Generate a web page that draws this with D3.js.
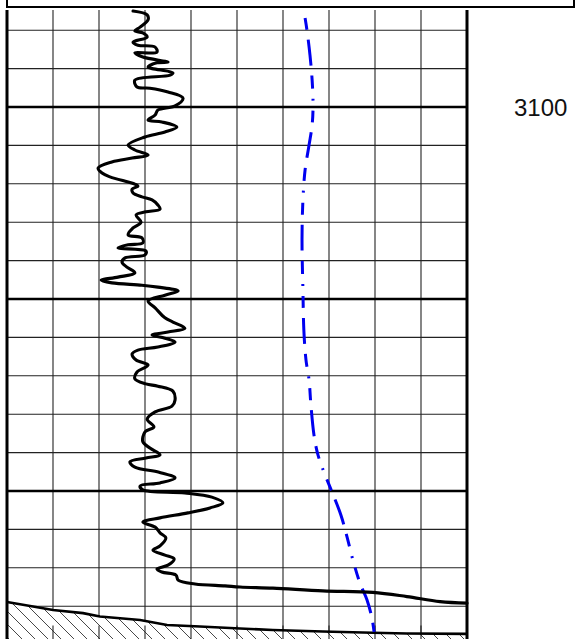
<!DOCTYPE html>
<html>
<head>
<meta charset="utf-8">
<script src="https://cdn.jsdelivr.net/npm/d3@7"></script>
<style>
  html, body { margin: 0; padding: 0; background: #fff; }
  svg { display: block; }
</style>
</head>
<body>
<svg id="chart" width="575" height="639"></svg>
<script>
// ---- Data ----
// Black (GR-like) curve: depth (m) and value (API, 0-150 track scale)
const grDepth = [3097.50,3097.60,3097.73,3097.92,3098.02,3098.07,3098.18,3098.31,3098.39,3098.44,
  3098.57,3098.59,3098.70,3098.83,3098.85,3098.96,3099.11,3099.17,3099.30,3099.48,
  3099.51,3099.61,3099.77,3099.97,3100.08,3100.21,3100.34,3100.39,3100.52,3100.65,
  3100.78,3100.99,3101.12,3101.25,3101.33,3101.43,3101.59,3101.72,3101.82,3102.01,
  3102.06,3102.14,3102.24,3102.34,3102.42,3102.55,3102.66,3102.73,3102.81,3103.00,
  3103.15,3103.33,3103.41,3103.54,3103.59,3103.67,3103.75,3103.85,3103.93,3104.04,
  3104.17,3104.32,3104.43,3104.51,3104.58,3104.64,3104.69,3104.79,3104.90,3105.05,
  3105.23,3105.49,3105.60,3105.76,3105.86,3105.94,3106.02,3106.12,3106.25,3106.33,
  3106.43,3106.59,3106.72,3106.90,3107.08,3107.21,3107.27,3107.40,3107.63,3107.79,
  3107.94,3108.13,3108.33,3108.46,3108.72,3108.88,3109.06,3109.14,3109.24,3109.38,
  3109.51,3109.66,3109.79,3109.87,3109.97,3110.05,3110.16,3110.31,3110.44,3110.57,
  3110.70,3110.81,3110.94,3111.09,3111.22,3111.43,3111.54,3111.67,3111.77,3111.93,
  3112.03,3112.11,3112.19,3112.32,3112.42,3112.47,3112.50,3112.53,3112.60,3112.64,
  3112.75,3112.88,3112.92];
const grValue = [41.1,45.7,46.0,43.4,41.7,44.3,45.7,41.1,42.7,48.3,
  48.9,41.7,44.3,52.5,48.9,46.0,54.1,53.2,41.7,42.4,
  46.6,52.5,57.4,54.8,49.2,48.3,46.0,50.5,55.4,51.5,
  45.0,39.5,41.7,46.0,40.8,34.2,29.7,31.0,33.6,41.7,
  42.7,40.8,41.1,44.0,47.3,49.2,49.9,45.3,42.1,43.7,
  41.1,39.5,44.0,44.3,39.5,36.2,45.3,45.0,38.5,37.5,
  39.1,41.7,36.2,30.7,34.2,44.0,49.2,55.8,51.5,46.0,
  48.3,51.5,54.1,58.0,52.5,47.3,51.5,54.8,49.2,42.7,
  40.8,42.1,46.0,42.4,41.7,45.3,49.2,54.1,54.8,53.8,
  48.3,45.7,47.9,45.0,44.3,46.6,49.9,45.3,40.1,41.7,
  49.6,54.8,49.9,43.4,44.3,58.0,66.8,70.4,66.2,59.0,
  49.9,44.3,48.3,49.9,51.8,49.9,47.6,51.5,54.5,52.5,
  48.9,50.5,55.1,55.8,61.3,71.1,76.0,86.7,103.0,119.3,
  130.4,141.2,150.0];

// Blue dash-dot curve
const blueDepth = [3097.68,3097.99,3098.65,3099.30,3099.95,3100.47,3100.99,3101.64,3102.42,3103.46,
  3104.77,3105.81,3106.59,3107.11,3107.76,3108.54,3109.06,3109.58,3109.97,3110.63,
  3111.20,3111.80,3112.40,3112.84,3113.31,3113.67];
const blueValue = [97.2,97.8,98.8,99.5,99.8,99.5,98.5,97.2,96.5,96.2,
  96.5,96.8,97.5,98.5,99.1,100.1,101.4,103.7,105.7,108.9,
  110.9,112.8,115.1,117.4,119.0,119.7];

// Lithology boundary (top of hatched interval)
const boundaryValue = [0,8.5,15.0,24.8,30.3,43.4,52.2,62.9,76.0,86.7,103.0,119.3,130.4,150];
const boundaryDepth = [3112.89,3113.01,3113.10,3113.18,3113.27,3113.36,3113.49,3113.53,3113.58,3113.62,3113.66,3113.69,3113.71,3113.72];

// Depth label(s)
const depthLabels = [3100];
const majorEvery = 5;

// ---- Chart ----
const W = 575, H = 639;
const svg = d3.select("#chart");

const x = d3.scaleLinear().domain([0, 150]).range([7, 467]);
const y = d3.scaleLinear().domain([3100, 3110]).range([107, 491]);
const trackTop = 10, trackBottom = H;

const dTop = y.invert(trackTop), dBot = y.invert(trackBottom);

// header box bottom edge
svg.append("path")
  .attr("d", `M7,-2 V7 H574 V-2`)
  .attr("fill", "none").attr("stroke", "#000").attr("stroke-width", 2);

// grid
const g = svg.append("g");
const vTicks = d3.range(0, 151, 15);
g.selectAll("line.v").data(vTicks.slice(1, -1)).join("line")
  .attr("x1", d => x(d)).attr("x2", d => x(d))
  .attr("y1", trackTop).attr("y2", trackBottom)
  .attr("stroke", "#222").attr("stroke-width", 1.1);

const hTicks = d3.range(Math.ceil(dTop), Math.floor(dBot) + 1);
g.selectAll("line.h").data(hTicks).join("line")
  .attr("x1", x(0)).attr("x2", x(150))
  .attr("y1", d => y(d)).attr("y2", d => y(d))
  .attr("stroke", d => (d % majorEvery === 0) ? "#000" : "#222")
  .attr("stroke-width", d => (d % majorEvery === 0) ? 2.6 : 1.1);

// hatched interval
const boundaryPts = boundaryValue.map((v, i) => [x(v), y(boundaryDepth[i])]);
const clipPts = boundaryPts.concat([[x(150), H + 5], [x(0), H + 5]]);
svg.append("clipPath").attr("id", "hatchClip")
  .append("path").attr("d", "M" + clipPts.map(p => p.join(",")).join("L") + "Z");
const hatch = svg.append("g").attr("clip-path", "url(#hatchClip)");
hatch.append("path").attr("d", "M" + clipPts.map(p => p.join(",")).join("L") + "Z").attr("fill", "#fff");
const hs = 13;
const starts = d3.range(x(0) - 60, x(150) + 10, hs);
hatch.selectAll("line").data(starts).join("line")
  .attr("x1", d => d).attr("y1", 590)
  .attr("x2", d => d + 55).attr("y2", 645)
  .attr("stroke", "#333").attr("stroke-width", 0.9);

// vertical grid lines through hatch too
svg.selectAll("line.v2").data(vTicks.slice(1, -1)).join("line")
  .attr("x1", d => x(d)).attr("x2", d => x(d))
  .attr("y1", y(3113.5)).attr("y2", trackBottom)
  .attr("stroke", "#222").attr("stroke-width", 1.1);

// boundary line
svg.append("path")
  .attr("d", d3.line()(boundaryPts))
  .attr("fill", "none").attr("stroke", "#000").attr("stroke-width", 2.6);

// track borders
svg.append("line").attr("x1", x(0)).attr("x2", x(0)).attr("y1", trackTop).attr("y2", trackBottom)
  .attr("stroke", "#000").attr("stroke-width", 3);
svg.append("line").attr("x1", x(150)).attr("x2", x(150)).attr("y1", trackTop).attr("y2", trackBottom)
  .attr("stroke", "#000").attr("stroke-width", 3);

// blue dash-dot curve
const blueLine = d3.line()
  .x((d, i) => x(blueValue[i])).y((d, i) => y(blueDepth[i]))
  .curve(d3.curveCatmullRom);
svg.append("path")
  .attr("d", blueLine(blueDepth))
  .attr("fill", "none").attr("stroke", "#0000f0").attr("stroke-width", 3)
  .attr("stroke-dasharray", "12,10,26,10,13,10,2,10");

// black curve
const grLine = d3.line()
  .x((d, i) => x(grValue[i])).y((d, i) => y(grDepth[i]))
  .curve(d3.curveCatmullRom.alpha(0.5));
svg.append("path")
  .attr("d", grLine(grDepth))
  .attr("fill", "none").attr("stroke", "#000").attr("stroke-width", 3.1)
  .attr("stroke-linejoin", "round").attr("stroke-linecap", "round");

// depth label
svg.selectAll("text.depth").data(depthLabels).join("text")
  .attr("class", "depth")
  .attr("x", 514).attr("y", d => y(d) + 9)
  .attr("font-family", "'Liberation Sans', Arial, sans-serif")
  .attr("font-size", 24).attr("fill", "#111")
  .text(d => d);
</script>
</body>
</html>
